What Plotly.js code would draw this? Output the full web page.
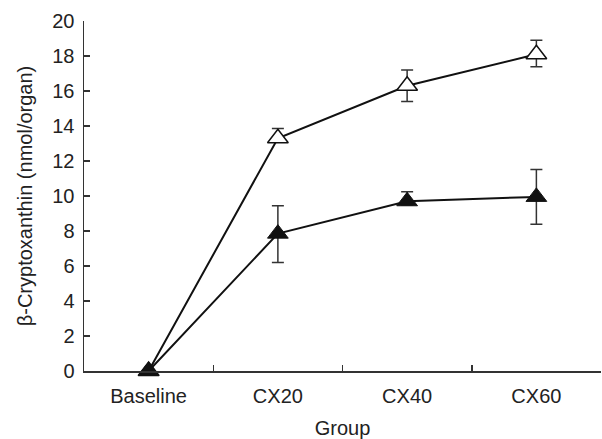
<!DOCTYPE html>
<html>
<head>
<meta charset="utf-8">
<script src="https://cdn.plot.ly/plotly-3.0.1.min.js"></script>
<style>html,body{margin:0;padding:0;background:#fff;}#chart{width:602px;height:439px;}</style>
</head>
<body>
<div id="chart"></div>
<script>
const groups = ["Baseline", "CX20", "CX40", "CX60"];
const openValues = [0, 13.3, 16.3, 18.1];
const openErrorsUp = [0, 0.55, 0.9, 0.8];
const openErrorsDown = [0, 0.2, 0.9, 0.72];
const filledValues = [0, 7.85, 9.7, 9.95];
const filledErrorsUp = [0, 1.6, 0.55, 1.57];
const filledErrorsDown = [0, 1.65, 0.2, 1.57];
const yTicks = [0, 2, 4, 6, 8, 10, 12, 14, 16, 18, 20];

const fontFam = "Liberation Sans, Arial, Helvetica, sans-serif";

const traces = [
  {
    x: groups, y: openValues, type: "scatter", mode: "lines+markers",
    line: {color: "#111", width: 2},
    marker: {symbol: "triangle-up", size: 18, color: "#fff", line: {color: "#111", width: 1.5}},
    error_y: {type: "data", symmetric: false, array: openErrorsUp, arrayminus: openErrorsDown, visible: true, color: "#333", thickness: 1.5, width: 6},
    cliponaxis: false, showlegend: false
  },
  {
    x: groups, y: filledValues, type: "scatter", mode: "lines+markers",
    line: {color: "#111", width: 2},
    marker: {symbol: "triangle-up", size: 18, color: "#111", line: {color: "#111", width: 1}},
    error_y: {type: "data", symmetric: false, array: filledErrorsUp, arrayminus: filledErrorsDown, visible: true, color: "#333", thickness: 1.5, width: 6},
    cliponaxis: false, showlegend: false
  }
];

const layout = {
  width: 602, height: 439,
  margin: {l: 84, r: 1, t: 21, b: 68},
  paper_bgcolor: "#fff", plot_bgcolor: "#fff",
  font: {family: fontFam, size: 20, color: "#222"},
  xaxis: {
    type: "category", range: [-0.5, 3.5],
    tickson: "boundaries", ticks: "inside", ticklen: 6, tickwidth: 1.5, tickcolor: "#333",
    showline: true, linecolor: "#333", linewidth: 1.5,
    showgrid: false, zeroline: false, ticklabelstandoff: 6,
    tickfont: {family: fontFam, size: 20, color: "#222"},
    title: {text: "Group", font: {family: fontFam, size: 20, color: "#222"}, standoff: 18},
    automargin: false
  },
  yaxis: {
    range: [0, 20], tickvals: yTicks, ticktext: yTicks.map(String),
    ticks: "inside", ticklen: 6, tickwidth: 1.5, tickcolor: "#333",
    showline: true, linecolor: "#333", linewidth: 1.5,
    showgrid: false, zeroline: false, ticklabelstandoff: 4,
    tickfont: {family: fontFam, size: 20, color: "#222"},
    title: {text: "β-Cryptoxanthin (nmol/organ)", font: {family: fontFam, size: 20, color: "#222"}, standoff: 14},
    automargin: false
  }
};

Plotly.newPlot("chart", traces, layout, {staticPlot: true, displayModeBar: false});
</script>
</body>
</html>
